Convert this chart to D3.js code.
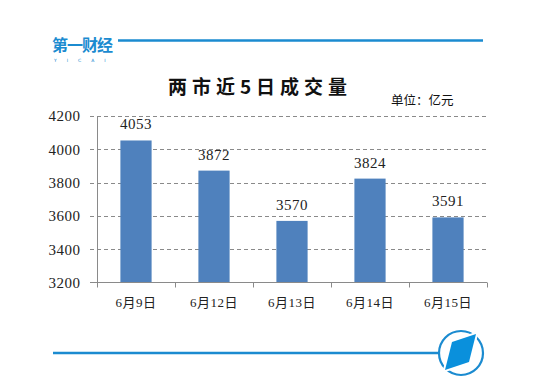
<!DOCTYPE html>
<html><head><meta charset="utf-8">
<script src="https://cdn.jsdelivr.net/npm/d3@7"></script>
<style>body{margin:0;background:#fff}svg{display:block}</style>
</head><body>
<svg id="c" width="545" height="392"></svg>
<script>
const categories = ["6月9日","6月12日","6月13日","6月14日","6月15日"];
const values = [4053, 3872, 3570, 3824, 3591];
const yTicks = [3200, 3400, 3600, 3800, 4000, 4200];
const title = "两市近5日成交量";
const unit = "单位：亿元";

const svg = d3.select("#c");
const blue = "#1b8bd0";

// header line and logo
svg.append("line").attr("x1",53).attr("x2",483).attr("y1",40.5).attr("y2",40.5)
  .attr("stroke",blue).attr("stroke-width",2.5);
svg.append("rect").attr("x",52).attr("y",36).attr("width",66).attr("height",26).attr("fill","#fff");
svg.append("text").attr("x",52).attr("y",51).attr("font-family","Noto Sans CJK SC")
  .attr("font-weight","bold").attr("font-size",16).attr("letter-spacing",-1).attr("fill",blue).text("第一财经");
svg.append("text").attr("x",54).attr("y",62).attr("font-family","DejaVu Sans")
  .attr("font-size",4.5).attr("letter-spacing",10).attr("fill",blue).text("YICAI");

// footer line and icon
svg.append("line").attr("x1",53).attr("x2",439).attr("y1",353).attr("y2",353)
  .attr("stroke",blue).attr("stroke-width",2.5);
svg.append("circle").attr("cx",461).attr("cy",353).attr("r",22).attr("fill","none")
  .attr("stroke",blue).attr("stroke-width",2.2);
svg.append("polygon").attr("points","452,342 476,334 469,362 445,370").attr("fill","#fff").attr("stroke","#fff").attr("stroke-width",4);
svg.append("polygon").attr("points","452,342 476,334 469,362 445,370").attr("fill","#0a90dc");

// titles
svg.append("text").attr("x",260).attr("y",94).attr("text-anchor","middle")
  .attr("font-family","Noto Sans CJK SC").attr("font-weight","bold").attr("font-size",19)
  .attr("letter-spacing",5).attr("fill","#111").text(title);
svg.append("text").attr("x",391).attr("y",105)
  .attr("font-family","Noto Sans CJK SC").attr("font-size",12.5).attr("fill","#111").text(unit);

// scales
const x = d3.scaleBand().domain(categories).range([97,487]).paddingInner(0.6).paddingOuter(0.3);
const y = d3.scaleLinear().domain([3200,4200]).range([282.5,116]);

// gridlines
svg.append("g").selectAll("line").data(yTicks.slice(1)).join("line")
  .attr("x1",90).attr("x2",487).attr("y1",d=>Math.round(y(d))+0.5).attr("y2",d=>Math.round(y(d))+0.5)
  .attr("stroke","#8a8a8a").attr("stroke-dasharray","4,3");

// y axis
const yAxis = d3.axisLeft(y).tickValues(yTicks).tickSize(0).tickPadding(17).tickFormat(d3.format("d"));
const gy = svg.append("g").attr("transform","translate(97.5,0)").call(yAxis);
gy.select(".domain").attr("stroke","#8a8a8a").attr("d","M0,116V282.5");
gy.selectAll("text").attr("font-family","Liberation Serif").attr("font-size",15)
  .attr("letter-spacing",0.5).attr("fill","#222");
svg.append("line").attr("x1",90).attr("x2",97).attr("y1",282.5).attr("y2",282.5).attr("stroke","#8a8a8a");

// bars
svg.append("g").selectAll("rect").data(values).join("rect")
  .attr("x",(d,i)=>x(categories[i])).attr("width",x.bandwidth())
  .attr("y",d=>y(d)).attr("height",d=>y(3200)-y(d)).attr("fill","#4f81bd");

// value labels
svg.append("g").selectAll("text").data(values).join("text")
  .attr("x",(d,i)=>x(categories[i])+x.bandwidth()/2).attr("y",d=>y(d)-11)
  .attr("text-anchor","middle").attr("font-family","Liberation Serif").attr("font-size",15)
  .attr("letter-spacing",0.5).attr("fill","#222").text(d=>d);

// x axis
const gx = svg.append("g").attr("transform","translate(0,282.5)");
gx.append("line").attr("x1",97).attr("x2",487).attr("stroke","#8a8a8a");
const bounds = categories.map(c=>x(c)-x.step()*x.paddingInner()/2).concat([487]);
bounds[0] = 97;
gx.selectAll(".tk").data(bounds).join("line").attr("class","tk")
  .attr("x1",d=>Math.round(d)+0.5).attr("x2",d=>Math.round(d)+0.5).attr("y1",0).attr("y2",5)
  .attr("stroke","#8a8a8a");
gx.selectAll(".lb").data(categories).join("text").attr("class","lb")
  .attr("x",c=>x(c)+x.bandwidth()/2).attr("y",24).attr("text-anchor","middle")
  .attr("font-family","Liberation Serif, Noto Sans CJK SC").attr("font-size",13)
  .attr("letter-spacing",0.5).attr("fill","#222").text(c=>c);
</script>
</body></html>
